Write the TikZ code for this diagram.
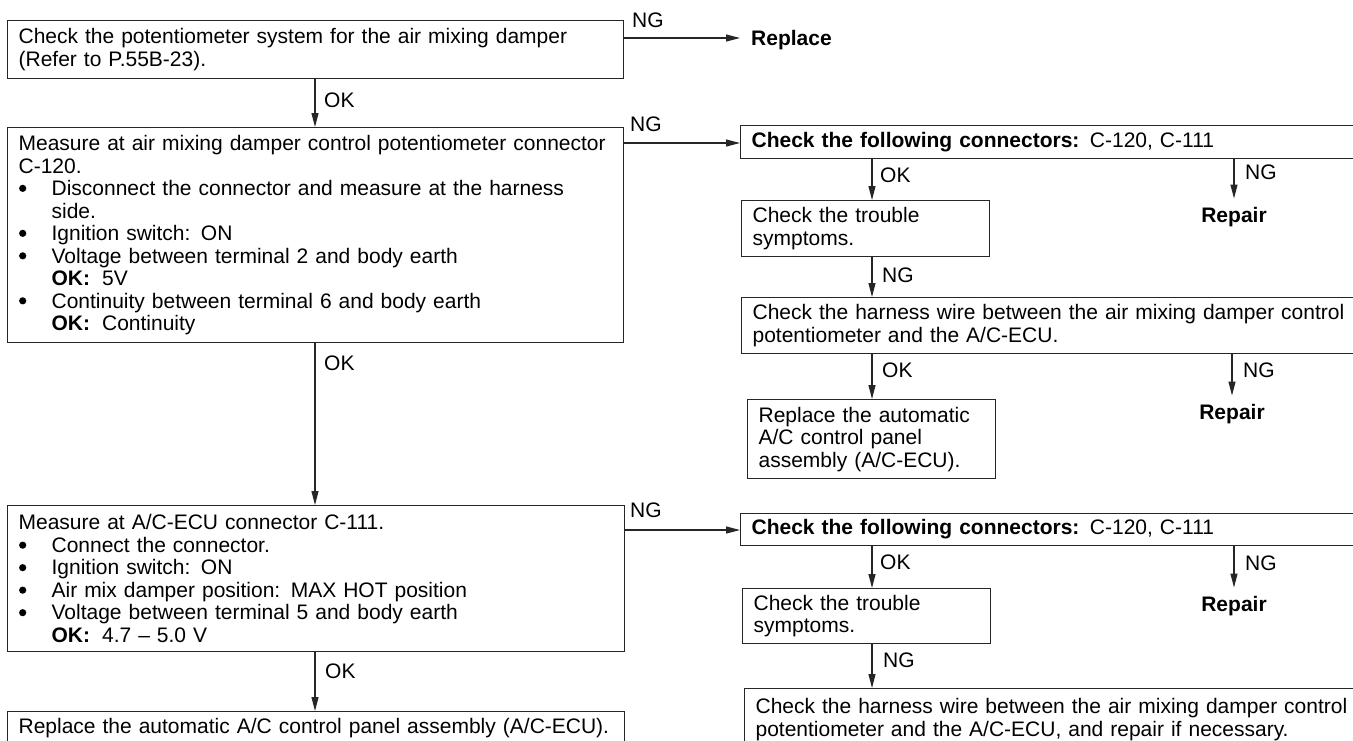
\documentclass[tikz,border=0pt]{standalone}
\usepackage{fontspec}
\setmainfont{Liberation Sans}
\usetikzlibrary{arrows.meta}
\newcommand\flowfont{\fontsize{21pt}{22.5pt}\selectfont}
\newcommand\flowbullet{\makebox[33pt][l]{\hspace{0.5pt}\tikz[baseline=0pt]\fill[black] (3.6pt,7.2pt) circle (3.6pt);}}
\newcommand\flowindent{\hspace*{33pt}}
\newcommand\okval[1]{\textbf{OK:}\hspace{12pt}#1}
\newcommand\wide[1]{\makebox[595pt][s]{#1}}
\tikzset{
  box/.style={draw=black!85, line width=1.2pt, rectangle, anchor=north west,
    inner xsep=11pt, inner ysep=0pt, align=left, font=\flowfont},
  lbl/.style={inner sep=0pt, text height=15pt, text depth=0pt, font=\flowfont},
  arr/.style={draw=black!85, line width=1.2pt, -{Triangle[length=14pt,width=7pt]}},
}
\begin{document}
\begin{tikzpicture}[x=1pt,y=-1pt]
\fill[white] (0,0) rectangle (1353,740);
\clip (0,0) rectangle (1353,740);

% column positions of the vertical connectors
\coordinate (lx) at (315,0);
\coordinate (ax) at (872,0);

% ---------- left column ----------
\node[box, text width=594pt, minimum height=58pt] (b1) at (7,20)
  {Check the potentiometer system for the air mixing damper\\
   (Refer to P.55B-23).};

\node[box, text width=594pt, minimum height=215pt] (b2) at (7,127)
  {Measure at air mixing damper control potentiometer connector\\
   C-120.\\
   \flowbullet Disconnect the connector and measure at the harness\\
   \flowindent side.\\
   \flowbullet Ignition switch: ON\\
   \flowbullet Voltage between terminal 2 and body earth\\
   \flowindent\okval{5V}\\
   \flowbullet Continuity between terminal 6 and body earth\\
   \flowindent\okval{Continuity}};

\node[box, text width=595pt, minimum height=146pt] (b3) at (7,505)
  {Measure at A/C-ECU connector C-111.\\
   \flowbullet Connect the connector.\\
   \flowbullet Ignition switch: ON\\
   \flowbullet Air mix damper position: MAX HOT position\\
   \flowbullet Voltage between terminal 5 and body earth\\
   \flowindent\okval{4.7 \textendash{} 5.0 V}};

\node[box, text width=595pt, minimum height=32pt] (b4) at (7,711)
  {Replace the automatic A/C control panel assembly (A/C-ECU).};

\node[lbl, anchor=west, inner xsep=11pt] (rep) at (740,38) {\textbf{Replace}};

% ---------- right column, first branch ----------
\node[box, text width=618pt, minimum height=33pt] (a1) at (740,125)
  {\textbf{Check the following connectors:} C-120, C-111};
\node[box, text width=226pt, minimum height=56pt] (a2) at (741,200)
  {Check the trouble\\symptoms.};
\node[box, text width=618pt, minimum height=56pt] (a3) at (741,297)
  {\wide{Check the harness wire between the air mixing damper control}\\
   potentiometer and the A/C-ECU.};
\node[box, text width=226pt, minimum height=79pt] (a4) at (747,399)
  {Replace the automatic\\A/C control panel\\assembly (A/C-ECU).};
\node[lbl, anchor=north] (rp1) at (1234,207.5) {\textbf{Repair}};
\node[lbl, anchor=north] (rp2) at (1232,404.5) {\textbf{Repair}};

% ---------- right column, second branch ----------
\node[box, text width=618pt, minimum height=32pt] (c1) at (740,513)
  {\textbf{Check the following connectors:} C-120, C-111};
\node[box, text width=226pt, minimum height=55pt] (c2) at (742,588)
  {Check the trouble\\symptoms.};
\node[box, text width=618pt, minimum height=62pt] (c3) at (744,688)
  {\wide{Check the harness wire between the air mixing damper control}\\
   potentiometer and the A/C-ECU, and repair if necessary.};
\node[lbl, anchor=north] (rp3) at (1234,596.5) {\textbf{Repair}};

% ---------- connectors ----------
\coordinate (n1) at ([yshift=-18pt]b1.north east);
\coordinate (n2) at ([yshift=-16pt]b2.north east);
\coordinate (n3) at ([yshift=-25pt]b3.north east);
\draw[arr] (n1) -- (n1 -| rep.west);
\draw[arr] (n2) -- (n2 -| a1.west);
\draw[arr] (n3) -- (n3 -| c1.west);

\draw[arr] (b1.south -| lx) -- (b2.north -| lx);
\draw[arr] (b2.south -| lx) -- (b3.north -| lx);
\draw[arr] (b3.south -| lx) -- (b4.north -| lx);

\draw[arr] (a1.south -| ax) -- (a2.north -| ax);
\draw[arr] (a2.south -| ax) -- (a3.north -| ax);
\draw[arr] (a3.south -| ax) -- (a4.north -| ax);
\draw[arr] (a1.south -| rp1.north) -- ([yshift=9pt]rp1.north);
\draw[arr] (a3.south -| rp2.north) -- ([yshift=9pt]rp2.north);

\draw[arr] (c1.south -| ax) -- (c2.north -| ax);
\draw[arr] (c2.south -| ax) -- (c3.north -| ax);
\draw[arr] (c1.south -| rp3.north) -- ([yshift=9pt]rp3.north);

% ---------- branch labels ----------
\node[lbl, anchor=west] at (632,20) {NG};
\node[lbl, anchor=west] at (630,124) {NG};
\node[lbl, anchor=west] at (630,510) {NG};
\node[lbl, anchor=west] at (324,100) {OK};
\node[lbl, anchor=west] at (324,363) {OK};
\node[lbl, anchor=west] at (325,671) {OK};

\node[lbl, anchor=west] at (880,175) {OK};
\node[lbl, anchor=west] at (882,275) {NG};
\node[lbl, anchor=west] at (882,370) {OK};
\node[lbl, anchor=west] at (1245,172) {NG};
\node[lbl, anchor=west] at (1243,370) {NG};

\node[lbl, anchor=west] at (880,562) {OK};
\node[lbl, anchor=west] at (883,660) {NG};
\node[lbl, anchor=west] at (1245,563) {NG};
\end{tikzpicture}
\end{document}
